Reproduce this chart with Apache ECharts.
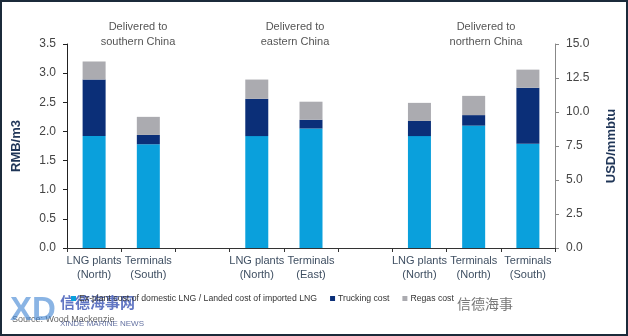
<!DOCTYPE html>
<html><head><meta charset="utf-8">
<script src="https://cdn.jsdelivr.net/npm/echarts@6/dist/echarts.min.js"></script>
<style>
html,body{margin:0;padding:0;background:#fff;}
#frame{width:628px;height:336px;box-sizing:border-box;border:2px solid #1b2a3a;position:relative;background:#fff;}
#c{width:624px;height:332px;position:absolute;left:0;top:0;}
</style></head>
<body><div id="frame"><div id="c"></div></div>
<script>
const categories = ['LNG plants\n(North)','Terminals\n(South)','','LNG plants\n(North)','Terminals\n(East)','','LNG plants\n(North)','Terminals\n(North)','Terminals\n(South)'];
const exPlant  = [1.92, 1.78, '-', 1.92, 2.05, '-', 1.92, 2.10, 1.79];
const trucking = [0.97, 0.16, '-', 0.64, 0.15, '-', 0.26, 0.18, 0.96];
const regas    = [0.31, 0.31, '-', 0.33, 0.31, '-', 0.31, 0.33, 0.31];
const seriesNames = ['Ex-plant cost of domestic LNG / Landed cost of imported LNG','Trucking cost','Regas cost'];
const leftTicks = [0,3.5,0.5];
const rightTicks = [0,15,2.5];
const groupTitles = ['Delivered to\nsouthern China','Delivered to\neastern China','Delivered to\nnorthern China'];

const chart = echarts.init(document.getElementById('c'));
const colors = ['#0aa0dc','#0b2f78','#ababb0'];
const FONT = 'Liberation Sans';
const titleX = [131, 288, 479];
chart.setOption({
  animation:false,
  textStyle:{fontFamily:FONT},
  title: groupTitles.map((t,i)=>({text:t,left:titleX[i],top:12,textAlign:'center',
    textStyle:{fontSize:11,fontWeight:'normal',color:'#555',lineHeight:15,fontFamily:FONT}})),
  grid:{left:65,right:70,top:42,bottom:86},
  legend:{left:64,top:287,itemWidth:5,itemHeight:5,icon:'rect',itemGap:13,z:10,
    textStyle:{fontSize:8.7,color:'#333',padding:[0,0,0,-2]},data:seriesNames},
  xAxis:{type:'category',data:categories,
    axisLine:{lineStyle:{color:'#333',width:1}},
    axisTick:{show:true,length:4,lineStyle:{color:'#333'}},
    axisLabel:{fontSize:11,color:'#3f4f62',lineHeight:14,margin:6,interval:0}},
  yAxis:[
    {type:'value',min:leftTicks[0],max:leftTicks[1],interval:leftTicks[2],name:'RMB/m3',
     nameLocation:'middle',nameGap:44,nameRotate:90,
     nameTextStyle:{fontSize:13,fontWeight:'bold',color:'#1f3557'},
     axisLine:{show:true,lineStyle:{color:'#222'}},axisTick:{show:true,length:4,lineStyle:{color:'#222'}},
     splitLine:{show:false},
     axisLabel:{fontSize:12,color:'#444',margin:11,formatter:v=>v.toFixed(1)}},
    {type:'value',min:rightTicks[0],max:rightTicks[1],interval:rightTicks[2],name:'USD/mmbtu',
     nameLocation:'middle',nameGap:50,nameRotate:90,position:'right',
     nameTextStyle:{fontSize:13,fontWeight:'bold',color:'#1f3557'},
     axisLine:{show:true,lineStyle:{color:'#888'}},axisTick:{show:true,length:4,lineStyle:{color:'#888'}},
     splitLine:{show:false},
     axisLabel:{fontSize:12,color:'#444',margin:11,formatter:v=>v.toFixed(1)}}
  ],
  series:[exPlant,trucking,regas].map((d,i)=>({
    name:seriesNames[i],type:'bar',stack:'s',data:d,barWidth:23,
    itemStyle:{color:colors[i]}
  })),
  graphic:[
    {type:'text',left:10,top:313,z:0,style:{text:'Source: Wood Mackenzie',fontSize:9,fill:'#666',fontFamily:FONT}},
    {type:'text',left:8,top:292,z:0,style:{text:'XD',fontSize:33,fontWeight:'bold',fill:'rgba(60,130,210,0.6)',fontFamily:FONT}},
    {type:'text',left:58,top:293,z:0,style:{text:'信德海事网',fontSize:15,fontWeight:'bold',fill:'rgba(30,60,170,0.7)',fontFamily:'Noto Sans CJK SC'}},
    {type:'text',left:58,top:318,z:0,style:{text:'XINDE MARINE NEWS',fontSize:8,fill:'rgba(30,50,120,0.7)',fontFamily:FONT}},
    {type:'text',left:455,top:295,z:0,style:{text:'信德海事',fontSize:14,fill:'#777',fontFamily:'Noto Sans CJK SC'}}
  ]
});
</script></body></html>
